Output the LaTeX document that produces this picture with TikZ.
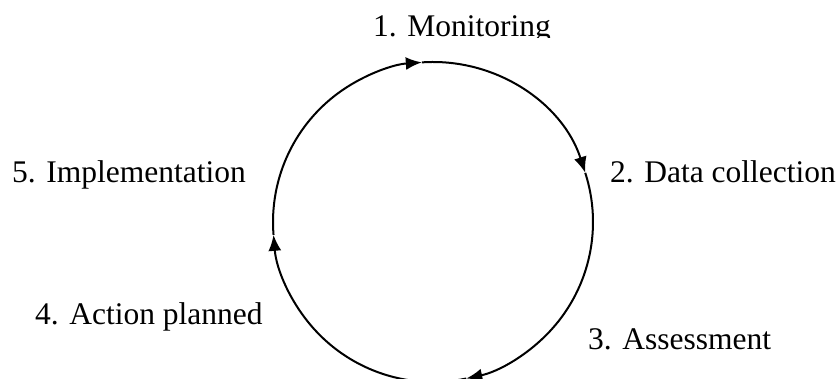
\documentclass[tikz,border=0pt]{standalone}
\usepackage{fontspec}
\setmainfont{Liberation Serif}
\usetikzlibrary{arrows.meta,calc}
\begin{document}
\begin{tikzpicture}[x=1pt,y=1pt,
  cyclearc/.style={line width=2pt,-{Latex[length=16pt,width=13pt]}},
  steplabel/.style={anchor=base west,inner sep=0pt,font=\fontsize{31.5}{38}\selectfont}]
\useasboundingbox (0,0) rectangle (839,378);
% centre of the cycle and the points where the arrow tips sit
\coordinate (c) at (433,156);
\coordinate (t1) at ($(c)+(94:160)$);
\coordinate (t2) at ($(c)+(17.9:160)$);
\coordinate (t3) at ($(c)+(-78:160)$);
\coordinate (t4) at ($(c)+(184.6:160)$);
% the cycle, drawn clockwise as four arcs
\draw[cyclearc] (t4) arc[start angle=184.6,end angle=94,radius=160];
\draw[cyclearc] (t1) arc[start angle=94,end angle=17.9,radius=160];
\draw[cyclearc] (t2) arc[start angle=17.9,end angle=-78,radius=160];
\draw[cyclearc] (t3) arc[start angle=-78,end angle=-175.4,radius=160];
% step labels
\begin{scope}
  \clip (0,340) rectangle (839,378);
  \node[steplabel] (s1) at (373,341) {1. Monitoring};
\end{scope}
\node[steplabel] (s2) at (610,195) {2. Data collection};
\node[steplabel] (s3) at (588,28) {3. Assessment};
\node[steplabel] (s4) at (35,53) {4. Action planned};
\node[steplabel] (s5) at (12,195) {5. Implementation};
\end{tikzpicture}
\end{document}
